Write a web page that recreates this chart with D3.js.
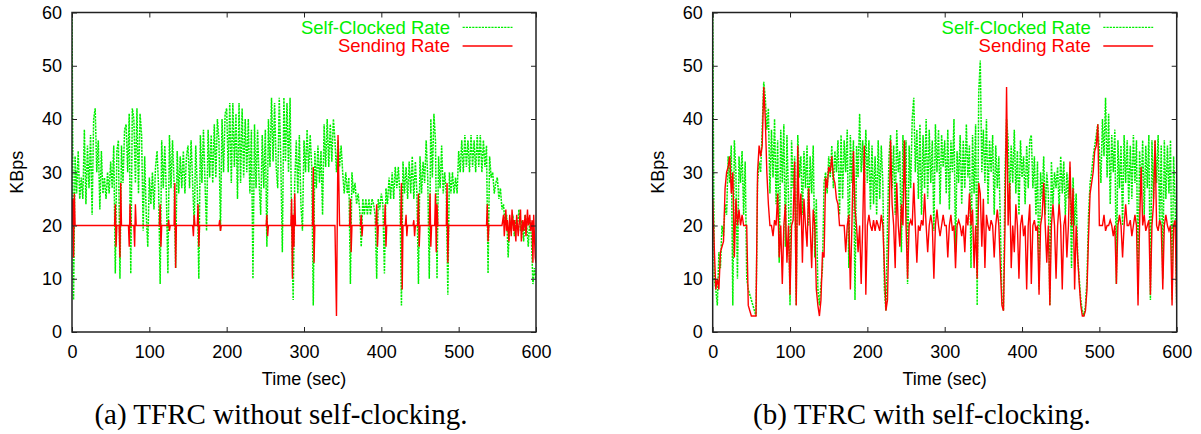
<!DOCTYPE html>
<html>
<head>
<meta charset="utf-8">
<script src="https://d3js.org/d3.v7.min.js"></script>
<style>
  body { margin: 0; background: #fff; }
  text { font-family: "Liberation Sans", Arial, sans-serif; }
</style>
</head>
<body>
<svg id="s" width="1201" height="434"></svg>
<script>
// samples are every 2 seconds, t = 0 .. 600
const STEP = 2
const xTicks = [0, 100, 200, 300, 400, 500, 600]
const yTicks = [0, 10, 20, 30, 40, 50, 60]
const legendLabels = ["Self-Clocked Rate", "Sending Rate"]
const captions = ["(a) TFRC without self-clocking.", "(b) TFRC with self-clocking."]

// (a) self-clocked rate, KBps
const selfClockedA = [
  60,6,33,26,34, 25,29,25,38,24, 35,27,37,22,40, 42,30,36,23,34, 26,29,25,30,26,
  32,27,35,11,34, 36,10,35,28,38, 39,30,41,11,42, 40,28,42,26,41, 37,19,33,22,16,
  29,24,30,23,31, 34,27,9,36,27, 35,26,11,37,27, 36,28,12,34,26, 33,27,34,26,33,
  35,27,36,28,20, 35,27,10,37,28, 38,28,19,38,29, 37,28,39,29,40, 36,19,40,30,41,
  42,30,43,28,43, 31,41,25,43,28, 42,29,40,30,40, 26,38,10,39,27, 38,28,22,37,27,
  38,16,40,31,44, 32,43,31,27,44, 32,15,44,32,43, 30,44,20,6,28, 36,26,37,24,19,
  36,30,38,30,37, 31,5,34,27,35, 28,34,22,39,31, 40,31,39,32,40, 36,30,36,31,35,
  30,26,30,26,29, 9,30,26,28,24, 26,23,16,25,22, 25,22,25,22,25, 24,22,10,25,23,
  26,24,11,27,24, 29,25,30,25,31, 27,31,26,5,32, 26,31,25,32,26, 33,25,32,26,9,
  33,26,32,28,36, 29,10,40,29,41, 36,10,33,27,35, 26,30,26,7,30, 26,30,26,29,26,
  34,30,36,30,37, 31,36,30,37,31, 36,30,37,31,37, 30,36,31,35,11, 33,29,30,26,28,
  29,25,27,23,24, 20,22,14,21,19, 22,18,21,20,23, 19,21,17,22,20, 16,21,18,9,12,
  10
]

// (a) sending rate: sits at 20 KBps, listed where it moves
const sendTimesA = [
  0,1,2,3,4, 55,56,57,58, 61,62,63,64, 73,74,75,76, 80,81,82,83,
  113,114,115,116, 124,125,126,127, 132,133,134,135, 156,157,158,159,
  162,163,164,165, 190,191,192,193, 251,252,253,254,
  283,284,285,286,287,288,289, 311,312,313,314, 340,342,344,346,
  359,360,361,362, 373,374,375,376, 393,394,395,396, 404,405,406,407,
  425,426,427,428, 431,432,433,434, 441,442,443,444, 447,448,449,450,
  462,463,464,465, 469,470,471,472,473, 484,485,486,487, 536,537,538,539,
  556,558,559,561,562,563,565,566,568,569,571,572,574,575,577,578,580,581,
  583,584,586,587,589,590,592,593,595,596,597,598,599,600
]
const sendRatesA = [
  20,25,14,26,20, 20,24,16,20, 20,14,28,20, 20,16,24,20, 20,16,24,20,
  20,24,16,20, 20,21,19,20, 20,28,12,20, 20,18,22,20,
  20,24,16,20, 20,21,19,20, 20,22,18,20,
  20,25,10,22,16,26,20, 20,31,13,20, 20,3,37,20,
  20,25,15,20, 20,22,18,20, 20,24,16,20, 20,24,16,20,
  20,28,8,20, 20,22,18,20, 20,21,18,20, 20,26,16,20,
  20,26,16,20, 20,26,15,24,20, 20,28,13,20, 20,24,17,20,
  20,22,18,23,19,21,17,22,18,23,19,21,17,22,18,20,23,17,
  21,19,22,18,23,20,22,19,21,13,22,18,14,13
]

// (b) self-clocked rate, KBps
const selfClockedB = [
  60,10,8,5,15, 12,20,18,24,22, 33,28,35,5,36, 30,10,33,28,34, 22,32,10,8,7,
  6,5,4,3,28, 32,30,38,47,44, 38,42,26,38,29, 40,24,36,13,38, 28,39,16,37,25,
  5,36,27,33,5, 37,29,33,22,34, 27,35,20,33,26, 35,14,25,8,5, 9,12,28,30,26,
  33,29,35,27,34, 30,36,22,37,25, 36,30,38,12,37, 28,36,6,35,29, 41,30,36,26,38,
  28,36,23,35,24, 33,22,36,25,35, 28,8,4,20,33, 37,27,35,22,38, 30,34,15,37,28,
  36,9,35,27,40, 44,30,38,25,39, 22,37,27,40,25, 38,28,36,19,39, 30,38,24,37,31,
  36,26,38,23,36, 30,40,15,34,28, 37,24,36,27,39, 29,35,12,37,26, 39,5,45,51,30,
  38,28,40,24,36, 30,37,22,35,27, 33,20,6,4,30, 40,36,25,35,28, 38,26,34,22,36,
  29,33,24,35,27, 36,37,27,33,22, 32,8,30,25,33, 22,30,26,5,32, 24,30,27,31,23,
  33,26,32,22,30, 25,31,12,29,20, 26,14,10,6,4, 3,5,10,22,28, 30,33,35,37,39,
  34,28,40,33,44, 29,41,24,37,30, 38,9,36,27,35, 20,37,28,36,24, 35,25,37,28,36,
  7,34,26,36,22, 35,27,37,6,36, 25,36,28,37,20, 35,10,36,25,35, 26,36,6,33,24,
  5
]

// (b) sending rate, KBps
const sendRatesB = [
  25,16,8,10,8, 15,16,17,27,30, 31,33,26,30,14, 25,20,23,20,22, 20,20,20,5,4,
  3,3,3,3,30, 35,33,35,46,40, 30,24,20,20,18, 21,20,26,14,20, 9,20,24,13,20,
  7,20,21,32,5, 35,20,26,13,25, 20,16,27,20,12, 23,20,8,5,3, 6,15,14,29,27,
  31,30,33,29,28, 25,24,20,20,20, 20,15,20,22,8, 20,34,23,20,15, 20,9,20,35,7,
  20,22,20,19,21, 19,21,20,19,22, 20,12,4,6,20, 36,24,20,12,28, 20,16,24,20,36,
  20,10,20,21,20, 28,20,13,20,19, 21,20,26,20,15, 20,22,20,10,20, 23,20,18,20,22,
  20,20,14,20,22, 19,20,12,20,21, 20,18,20,15,22, 20,26,20,23,12, 20,10,28,26,16,
  25,12,22,20,19, 21,20,14,20,23, 20,12,5,4,20, 46,20,28,12,20, 15,24,20,10,20,
  22,18,20,8,20, 24,9,20,21,19, 20,7,20,22,28, 20,13,20,5,20, 24,20,10,20,24,
  20,8,20,22,14, 20,32,20,27,8, 20,14,9,5,3, 3,4,8,18,26, 28,30,34,35,39,
  20,20,20,22,19, 20,20,21,20,18, 20,9,20,22,20, 14,20,24,20,20, 21,18,20,22,20,
  5,20,31,20,22, 19,20,21,7,20, 24,36,20,19,21, 20,8,20,22,20, 19,20,5,20,21,
  5
]

const GREEN = "#00f000"
const RED = "#ff0000"
const TOP = 12.5, BOTTOM = 332

const svg = d3.select("#s")
svg.append("rect").attr("width", 1201).attr("height", 434).attr("fill", "#fff")

const sampled = vals => vals.map((v, i) => ({ t: i * STEP, v: v }))
const paired = (ts, vs) => ts.map((t, i) => ({ t: t, v: vs[i] }))

const panels = [
  { left: 72, right: 536, capX: 281, green: sampled(selfClockedA), red: paired(sendTimesA, sendRatesA), caption: captions[0] },
  { left: 712.7, right: 1176.7, capX: 922, green: sampled(selfClockedB), red: sampled(sendRatesB), caption: captions[1] }
]

panels.forEach((p, k) => {
  const x = d3.scaleLinear().domain([0, 600]).range([p.left, p.right])
  const y = d3.scaleLinear().domain([0, 60]).range([BOTTOM, TOP])
  const g = svg.append("g")

  g.append("clipPath").attr("id", "clip" + k)
    .append("rect")
    .attr("x", p.left).attr("y", TOP)
    .attr("width", p.right - p.left).attr("height", BOTTOM - TOP)

  const line = d3.line().x(d => x(d.t)).y(d => y(d.v))

  const plot = g.append("g").attr("clip-path", `url(#clip${k})`)
  plot.append("path")
    .datum(p.green)
    .attr("d", line)
    .attr("fill", "none")
    .attr("stroke", GREEN)
    .attr("stroke-width", 1.5)
    .attr("stroke-dasharray", "2.2,1")
  plot.append("path")
    .datum(p.red)
    .attr("d", line)
    .attr("fill", "none")
    .attr("stroke", RED)
    .attr("stroke-width", 1.4)

  // axes, ticks pointing inwards (mirrored on top and right)
  g.append("g")
    .attr("transform", `translate(0,${BOTTOM})`)
    .call(d3.axisBottom(x).tickValues(xTicks).tickSize(-5).tickPadding(13))
  g.append("g")
    .attr("transform", `translate(${p.left},0)`)
    .call(d3.axisLeft(y).tickValues(yTicks).tickSize(-5).tickPadding(10))
  g.append("g")
    .attr("transform", `translate(0,${TOP})`)
    .call(d3.axisTop(x).tickValues(xTicks).tickSize(-5).tickFormat(""))
  g.append("g")
    .attr("transform", `translate(${p.right},0)`)
    .call(d3.axisRight(y).tickValues(yTicks).tickSize(-5).tickFormat(""))

  g.selectAll(".domain").remove()
  g.selectAll(".tick line").attr("stroke", "#222").attr("stroke-width", 1)
  g.selectAll(".tick text")
    .attr("font-size", "18px")
    .attr("fill", "#000")

  g.append("rect")
    .attr("x", p.left).attr("y", TOP)
    .attr("width", p.right - p.left).attr("height", BOTTOM - TOP)
    .attr("fill", "none")
    .attr("stroke", "#222")
    .attr("stroke-width", 1.5)

  // labels
  g.append("text")
    .attr("transform", `translate(${p.left - 49},${(TOP + BOTTOM) / 2}) rotate(-90)`)
    .attr("text-anchor", "middle")
    .attr("font-size", "18px")
    .text("KBps")
  g.append("text")
    .attr("x", (p.left + p.right) / 2)
    .attr("y", 385)
    .attr("text-anchor", "middle")
    .attr("font-size", "18px")
    .text("Time (sec)")
  g.append("text")
    .attr("x", p.capX)
    .attr("y", 424)
    .attr("text-anchor", "middle")
    .style("font-family", "'Liberation Serif', 'Times New Roman', serif")
    .attr("font-size", "29px")
    .attr("fill", "#000")
    .text(p.caption)

  // legend
  const legendY = [27.3, 46]
  const legendColors = [GREEN, RED]
  legendLabels.forEach((lab, i) => {
    g.append("text")
      .attr("x", p.right - 86)
      .attr("y", legendY[i] + 6.4)
      .attr("text-anchor", "end")
      .attr("font-size", "18.5px")
      .attr("fill", legendColors[i])
      .text(lab)
    g.append("line")
      .attr("x1", p.right - 73.4).attr("x2", p.right - 23.5)
      .attr("y1", legendY[i]).attr("y2", legendY[i])
      .attr("stroke", legendColors[i])
      .attr("stroke-width", 1.3)
      .attr("stroke-dasharray", i === 0 ? "2.2,1" : null)
  })
})
</script>
</body>
</html>
